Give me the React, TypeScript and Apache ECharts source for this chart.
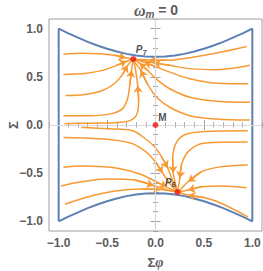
import React, { useEffect, useRef } from 'react';
import * as echarts from 'echarts';

// Boundary of the physical region
const boundaryX = [-1, -0.9, -0.8, -0.7, -0.6, -0.5, -0.4, -0.3, -0.2, -0.1, 0, 0.1, 0.2, 0.3, 0.4, 0.5, 0.6, 0.7, 0.8, 0.9, 1];
const boundaryTop = [1, 0.951, 0.906, 0.863, 0.825, 0.791, 0.762, 0.738, 0.721, 0.711, 0.707, 0.711, 0.721, 0.738, 0.762, 0.791, 0.825, 0.863, 0.906, 0.951, 1];
const boundaryBottom = [-1, -0.951, -0.906, -0.863, -0.825, -0.791, -0.762, -0.738, -0.721, -0.711, -0.707, -0.711, -0.721, -0.738, -0.762, -0.791, -0.825, -0.863, -0.906, -0.951, -1];

// Streamlines flowing into P7
const streamsToP7: number[][][] = [
  [[-0.951, 0.734], [-0.764, 0.744], [-0.578, 0.739], [-0.423, 0.723], [-0.309, 0.697], [-0.229, 0.685]],
  [[-0.951, 0.525], [-0.734, 0.535], [-0.547, 0.567], [-0.402, 0.619], [-0.298, 0.661], [-0.229, 0.685]],
  [[-0.93, 0.306], [-0.734, 0.316], [-0.547, 0.358], [-0.423, 0.431], [-0.34, 0.525], [-0.288, 0.619], [-0.229, 0.685]],
  [[-0.951, 0.097], [-0.682, 0.097], [-0.454, 0.118], [-0.34, 0.17], [-0.288, 0.275], [-0.267, 0.41], [-0.247, 0.567], [-0.229, 0.685]],
  [[-0.941, 0.014], [-0.682, 0.019], [-0.423, 0.024], [-0.267, 0.045], [-0.195, 0.107], [-0.174, 0.254], [-0.184, 0.41], [-0.205, 0.567], [-0.229, 0.685]],
  [[0.942, 0.815], [0.631, 0.747], [0.355, 0.699], [0.114, 0.671], [-0.06, 0.674], [-0.184, 0.681], [-0.229, 0.685]],
  [[0.976, 0.619], [0.631, 0.574], [0.355, 0.585], [0.147, 0.619], [-0.019, 0.645], [-0.143, 0.671], [-0.229, 0.685]],
  [[0.959, 0.428], [0.631, 0.434], [0.355, 0.48], [0.147, 0.549], [-0.008, 0.609], [-0.112, 0.65], [-0.229, 0.685]],
  [[0.976, 0.236], [0.631, 0.246], [0.355, 0.288], [0.147, 0.376], [0.012, 0.473], [-0.081, 0.567], [-0.164, 0.64], [-0.229, 0.685]],
  [[0.976, 0.052], [0.631, 0.063], [0.355, 0.097], [0.147, 0.184], [0.012, 0.288], [-0.081, 0.421], [-0.153, 0.567], [-0.205, 0.64], [-0.229, 0.685]],
];
const arrowsToP7 = [4, 4, 5, 6, 6, 4, 4, 5, 6, 6];

// Streamlines flowing into P6
const streamsToP6: number[][][] = [
  [[-0.765, -0.025], [-0.474, -0.039], [-0.236, -0.06], [-0.133, -0.122], [-0.019, -0.216], [0.064, -0.331], [0.126, -0.446], [0.178, -0.581], [0.227, -0.696]],
  [[-0.951, -0.129], [-0.578, -0.143], [-0.267, -0.185], [-0.112, -0.268], [-0.008, -0.373], [0.075, -0.498], [0.158, -0.623], [0.227, -0.696]],
  [[-0.951, -0.438], [-0.765, -0.425], [-0.423, -0.443], [-0.164, -0.508], [-0.008, -0.581], [0.116, -0.644], [0.227, -0.696]],
  [[-0.975, -0.634], [-0.765, -0.589], [-0.485, -0.561], [-0.216, -0.571], [-0.019, -0.628], [0.126, -0.675], [0.227, -0.696]],
  [[-0.934, -0.822], [-0.692, -0.745], [-0.416, -0.686], [-0.143, -0.665], [0.044, -0.67], [0.227, -0.696]],
  [[0.952, -0.06], [0.51, -0.067], [0.303, -0.101], [0.209, -0.195], [0.178, -0.352], [0.183, -0.498], [0.209, -0.623], [0.227, -0.696]],
  [[0.952, -0.177], [0.51, -0.188], [0.337, -0.276], [0.268, -0.414], [0.251, -0.553], [0.227, -0.696]],
  [[0.952, -0.414], [0.683, -0.432], [0.476, -0.484], [0.337, -0.589], [0.251, -0.676], [0.227, -0.696]],
  [[0.942, -0.651], [0.683, -0.634], [0.476, -0.641], [0.337, -0.675], [0.227, -0.696]],
  [[0.955, -0.954], [0.683, -0.814], [0.51, -0.756], [0.337, -0.728], [0.227, -0.696]],
];
const arrowsToP6 = [6, 5, 5, 4, 4, 5, 4, 3, 3, 3];

// Fixed points
const pointNames = ['P7', 'P6', 'M'];
const pointSubs = ['7', '6', ''];
const pointX = [-0.229, 0.227, 0];
const pointY = [0.685, -0.696, 0];
const labelOffsets = [[8, -9], [-7, -10], [7, -8]];

const majorTicks = [-1, -0.5, 0, 0.5, 1];

const ORANGE = '#F79A34';
const BLUE = '#5E81B5';
const FRAME = '#a0a0a0';
const TEXT = '#5c5c5c';
const SANS = 'Liberation Sans, Arial, sans-serif';

const fmt = (v: number) => (v < 0 ? '\u2212' + Math.abs(v).toFixed(1) : v.toFixed(1));

export default function App() {
  const ref = useRef<HTMLDivElement>(null);
  useEffect(() => {
    if (!ref.current) return;
    const chart = echarts.init(ref.current, null, { renderer: 'svg' });

    const allStreams = [...streamsToP7, ...streamsToP6];
    const allArrows = [...arrowsToP7, ...arrowsToP6];

    const boundary: number[][] = [];
    boundary.push([boundaryX[0], boundaryBottom[0]]);
    for (let i = 0; i < boundaryX.length; i++) boundary.push([boundaryX[i], boundaryTop[i]]);
    for (let i = boundaryX.length - 1; i >= 0; i--) boundary.push([boundaryX[i], boundaryBottom[i]]);

    const streamSeries = allStreams.map((pts) => ({
      type: 'line',
      data: pts,
      smooth: 0.35,
      showSymbol: false,
      symbol: 'none',
      lineStyle: { color: ORANGE, width: 1.5 },
      z: 3,
      silent: true,
    }));

    const arrowSeries = {
      type: 'lines',
      coordinateSystem: 'cartesian2d',
      symbol: ['none', 'arrow'],
      symbolSize: 7,
      lineStyle: { color: ORANGE, width: 1.5, opacity: 1 },
      z: 4,
      silent: true,
      data: allStreams.map((pts, i) => ({ coords: [pts[allArrows[i] - 1], pts[allArrows[i]]] })),
    };

    const axisCommon = {
      type: 'value',
      min: -1.1,
      max: 1.1,
      axisLine: { show: false },
      splitLine: { show: false },
    };
    const major = (pos: string, labels: boolean, extra: any = {}) => ({
      ...axisCommon,
      position: pos,
      axisTick: { show: true, inside: true, length: 5, customValues: majorTicks, lineStyle: { color: FRAME, width: 1 } },
      axisLabel: labels
        ? { show: true, customValues: majorTicks, formatter: fmt, color: TEXT, fontSize: 12, fontWeight: 'bold', fontFamily: SANS, margin: 6 }
        : { show: false },
      ...extra,
    });
    const minor = (pos: string) => ({
      ...axisCommon,
      position: pos,
      interval: 0.1,
      axisTick: { show: true, inside: true, length: 2.5, lineStyle: { color: FRAME, width: 1 } },
      axisLabel: { show: false },
    });

    const option: any = {
      animation: false,
      grid: { left: 49, right: 1, top: 19, bottom: 40, show: true, borderColor: FRAME, borderWidth: 1, containLabel: false, outerBoundsMode: 'none' },
      graphic: [
        {
          type: 'text',
          x: 156,
          y: 10,
          style: {
            text: '{w|\u03c9}{m|m}{e| = 0}',
            textAlign: 'center',
            textVerticalAlign: 'middle',
            rich: {
              w: { fontSize: 16, fontStyle: 'italic', fontWeight: 'bold', fill: TEXT, fontFamily: 'Liberation Serif, serif' },
              m: { fontSize: 10, fontStyle: 'italic', fontWeight: 'bold', fill: TEXT, fontFamily: SANS, padding: [8, 0, 0, 0] },
              e: { fontSize: 14, fontWeight: 'bold', fill: TEXT, fontFamily: SANS },
            },
          },
        },
        {
          type: 'text',
          x: 13,
          y: 125,
          rotation: Math.PI / 2,
          style: {
            text: '\u03a3',
            textAlign: 'center',
            textVerticalAlign: 'middle',
            fontSize: 13,
            fontWeight: 'bold',
            fill: TEXT,
            fontFamily: SANS,
          },
        },
      ],
      xAxis: [
        major('bottom', true, {
          name: '{s|\u03a3}{p|\u03c6}',
          nameLocation: 'middle',
          nameGap: 24,
          nameTextStyle: {
            rich: {
              s: { fontSize: 13, fontWeight: 'bold', color: TEXT, fontFamily: SANS },
              p: { fontSize: 14, fontWeight: 'bold', fontStyle: 'italic', color: TEXT, fontFamily: 'Liberation Serif, serif' },
            },
          },
        }),
        minor('bottom'),
        major('top', false),
        minor('top'),
      ],
      yAxis: [
        major('left', true),
        minor('left'),
        major('right', false),
        minor('right'),
      ],
      series: [
        {
          type: 'line',
          data: [],
          z: 1,
          silent: true,
          markLine: {
            silent: true,
            symbol: 'none',
            label: { show: false },
            lineStyle: { color: '#d8d8d8', width: 1.2, type: 'solid' },
            data: [{ xAxis: 0 }, { yAxis: 0 }],
          },
        },
        {
          type: 'line',
          data: boundary,
          showSymbol: false,
          symbol: 'none',
          lineStyle: { color: BLUE, width: 2 },
          z: 2,
          silent: true,
        },
        ...streamSeries,
        arrowSeries,
        {
          type: 'scatter',
          z: 6,
          symbolSize: 6,
          itemStyle: { color: '#ee1515' },
          data: pointNames.map((n, i) => ({
            value: [pointX[i], pointY[i]],
            label: {
              show: true,
              position: 'inside',
              offset: labelOffsets[i],
              formatter: pointSubs[i] ? '{p|P}{s|' + pointSubs[i] + '}' : '{p|' + n + '}',
              rich: {
                p: { fontSize: 10, fontWeight: 'bold', fontStyle: pointSubs[i] ? 'italic' : 'normal', color: '#222', fontFamily: SANS },
                s: { fontSize: 8, fontWeight: 'bold', color: '#222', fontFamily: SANS, padding: [5, 0, 0, 0] },
              },
            },
          })),
        },
      ],
    };
    chart.setOption(option);
    return () => chart.dispose();
  }, []);
  return <div ref={ref} style={{ position: 'absolute', left: 0, top: 0, width: 263, height: 271 }} />;
}
